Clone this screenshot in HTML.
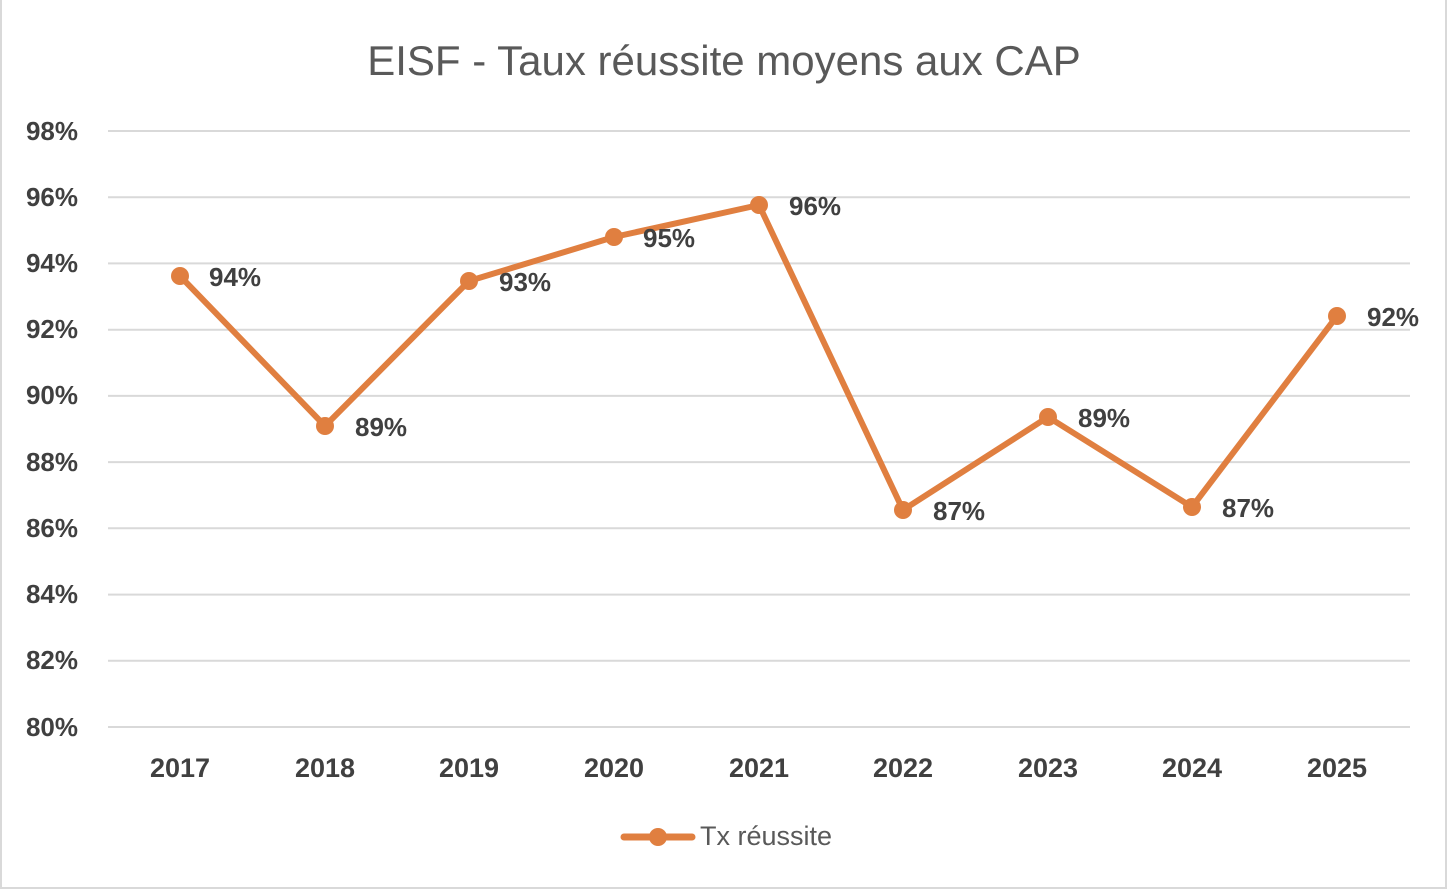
<!DOCTYPE html>
<html><head><meta charset="utf-8"><style>
html,body{margin:0;padding:0;background:#fff}
svg{display:block}
</style></head><body>
<svg width="1448" height="892" xmlns="http://www.w3.org/2000/svg" font-family="Liberation Sans, sans-serif">
<rect x="1" y="-2" width="1445" height="890" fill="#fff" stroke="#d9d9d9" stroke-width="2"/>
<text x="724" y="75" text-anchor="middle" font-size="42" fill="#595959">EISF - Taux réussite moyens aux CAP</text>
<g stroke="#d9d9d9" stroke-width="2">
<line x1="108" x2="1410" y1="131" y2="131"/>
<line x1="108" x2="1410" y1="197.2" y2="197.2"/>
<line x1="108" x2="1410" y1="263.4" y2="263.4"/>
<line x1="108" x2="1410" y1="329.7" y2="329.7"/>
<line x1="108" x2="1410" y1="395.9" y2="395.9"/>
<line x1="108" x2="1410" y1="462.1" y2="462.1"/>
<line x1="108" x2="1410" y1="528.3" y2="528.3"/>
<line x1="108" x2="1410" y1="594.6" y2="594.6"/>
<line x1="108" x2="1410" y1="660.8" y2="660.8"/>
<line x1="108" x2="1410" y1="727" y2="727"/>
</g>
<g font-size="26" font-weight="bold" fill="#404040" text-anchor="end">
<text x="78" y="140">98%</text><text x="78" y="206">96%</text><text x="78" y="272">94%</text>
<text x="78" y="338">92%</text><text x="78" y="404">90%</text><text x="78" y="471">88%</text>
<text x="78" y="537">86%</text><text x="78" y="603">84%</text><text x="78" y="669">82%</text><text x="78" y="736">80%</text>
</g>
<g font-size="27" font-weight="bold" fill="#404040" text-anchor="middle">
<text x="180" y="777">2017</text><text x="325" y="777">2018</text><text x="469" y="777">2019</text>
<text x="614" y="777">2020</text><text x="759" y="777">2021</text><text x="903" y="777">2022</text>
<text x="1048" y="777">2023</text><text x="1192" y="777">2024</text><text x="1337" y="777">2025</text>
</g>
<polyline fill="none" stroke="#e07f40" stroke-width="6" stroke-linejoin="round" points="180,276 325,426 469,281 614,237 759,205 903,510 1048,417 1192,507 1337,316"/>
<g fill="#e07f40">
<circle cx="180" cy="276" r="9"/><circle cx="325" cy="426" r="9"/><circle cx="469" cy="281" r="9"/>
<circle cx="614" cy="237" r="9"/><circle cx="759" cy="205" r="9"/><circle cx="903" cy="510" r="9"/>
<circle cx="1048" cy="417" r="9"/><circle cx="1192" cy="507" r="9"/><circle cx="1337" cy="316" r="9"/>
</g>
<g font-size="26" font-weight="bold" fill="#404040">
<text x="209" y="286">94%</text><text x="355" y="436">89%</text><text x="499" y="291">93%</text>
<text x="643" y="247">95%</text><text x="789" y="215">96%</text><text x="933" y="520">87%</text>
<text x="1078" y="427">89%</text><text x="1222" y="517">87%</text><text x="1367" y="326">92%</text>
</g>
<line x1="624" x2="692" y1="837" y2="837" stroke="#e07f40" stroke-width="7" stroke-linecap="round"/>
<circle cx="658" cy="837" r="9" fill="#e07f40"/>
<text x="700" y="845" font-size="27" fill="#595959">Tx réussite</text>
</svg>
</body></html>
